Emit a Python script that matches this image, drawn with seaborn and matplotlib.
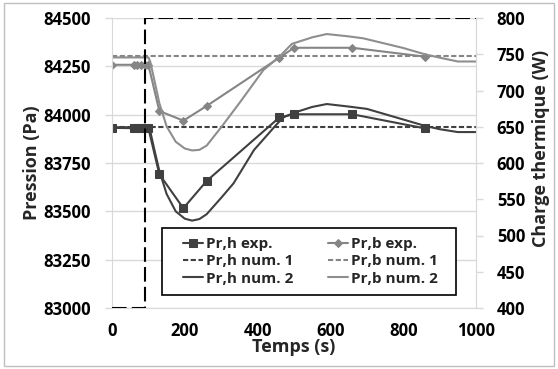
import numpy as np
import pandas as pd
import matplotlib
matplotlib.use('Agg')
import matplotlib.pyplot as plt
import seaborn as sns

# experimental points
t_exp = [0, 60, 70, 80, 90, 100, 130, 196, 260, 460, 500, 660, 860]
prh_exp = [83932, 83930, 83930, 83930, 83930, 83930, 83692, 83516, 83657, 83986, 84002, 84002, 83929]
prb_exp = [84258, 84258, 84258, 84258, 84258, 84258, 84019, 83969, 84045, 84295, 84346, 84346, 84300]

# numerical model 1 (constant)
t_num1 = [0, 1000]
prh_num1 = [83937, 83937]
prb_num1 = [84304, 84304]

# numerical model 2
t_num2 = [0, 100, 105, 115, 130, 150, 175, 200, 220, 240, 260, 300, 334, 390, 450, 470, 500,
          550, 590, 650, 700, 800, 860, 900, 950, 1000]
prh_num2 = [83935, 83935, 83915, 83830, 83710, 83590, 83500, 83462, 83452, 83460, 83485, 83570,
            83645, 83817, 83945, 83985, 84010, 84040, 84055, 84042, 84030, 83975,
            83942, 83925, 83910, 83910]
t_num2b = [0, 100, 105, 115, 130, 150, 175, 200, 220, 240, 260, 300, 350, 416, 460, 494, 550,
           590, 650, 690, 800, 860, 900, 950, 1000]
prb_num2 = [84296, 84296, 84275, 84190, 84060, 83940, 83860, 83825, 83815, 83818, 83840, 83935,
            84060, 84231, 84300, 84366, 84400, 84417, 84405, 84395, 84345, 84312,
            84295, 84275, 84275]

# thermal load step (right axis)
t_step = [0, 90, 90, 1000]
charge = [400, 400, 800, 800]

sns.set_style('white')
plt.rcParams['font.family'] = ['Open Sans', 'DejaVu Sans']
plt.rcParams['font.weight'] = 'bold'

dark = '#404040'
grey = '#858585'
light = '#d9d9d9'

fig, ax = plt.subplots(figsize=(5.58, 3.69), dpi=100)
fig.subplots_adjust(left=112/558, right=476/558, bottom=1-308/369, top=1-18/369)

kw = dict(ax=ax, lw=1.5, sort=False, estimator=None)
sns.lineplot(x=t_exp, y=prh_exp, color=dark, marker='s', markersize=6,
             markeredgecolor=dark, label='Pr,h exp.', **kw)
sns.lineplot(x=t_num1, y=prh_num1, color=dark, label='Pr,h num. 1', **kw)
ax.lines[-1].set_dashes((2.5, 1.2))
sns.lineplot(x=t_num2, y=prh_num2, color=dark, label='Pr,h num. 2', **kw)
sns.lineplot(x=t_exp, y=prb_exp, color=grey, marker='D', markersize=4,
             markeredgecolor=grey, label='Pr,b exp.', **kw)
sns.lineplot(x=t_num1, y=prb_num1, color=grey, label='Pr,b num. 1', **kw)
ax.lines[-1].set_dashes((2.5, 1.2))
sns.lineplot(x=t_num2b, y=prb_num2, color='#8e8e8e', label='Pr,b num. 2', **kw)

ax.set_xlim(0, 1000)
ax.set_ylim(83000, 84500)
ax.set_xticks(range(0, 1001, 200))
ax.set_yticks(range(83000, 84501, 250))
ax.yaxis.grid(True, color=light, lw=1)
ax.set_axisbelow(True)
for s in ['left', 'bottom', 'right']:
    ax.spines[s].set_color(light)
ax.spines['top'].set_visible(False)
ax.tick_params(axis='both', colors=light, labelcolor='black', length=5, width=1, labelsize=12)
ax.tick_params(axis='y', pad=10)
ax.tick_params(axis='x', pad=5)
ax.set_xlabel('Temps (s)', fontsize=13, fontweight='bold', labelpad=-1)
ax.set_ylabel('Pression (Pa)', fontsize=13, fontweight='bold', labelpad=2)

ax2 = ax.twinx()
sns.lineplot(x=t_step, y=charge, ax=ax2, color='black', lw=1.5, sort=False, estimator=None)
ax2.lines[-1].set_dashes((7, 2.5))
ax2.set_ylim(400, 800)
ax2.set_yticks(range(400, 801, 50))
for s in ['left', 'bottom', 'top']:
    ax2.spines[s].set_visible(False)
ax2.spines['right'].set_color(light)
ax2.tick_params(axis='y', colors=light, labelcolor='black', length=5, width=1, labelsize=12, pad=10)
ax2.set_ylabel('Charge thermique (W)', fontsize=13, fontweight='bold', labelpad=5, y=0.55)

# legend box drawn by hand, entries placed inside it
ax2.add_patch(plt.Rectangle((0.137, 0.045), 0.808, 0.231, transform=ax2.transAxes,
                            facecolor='white', edgecolor='black', lw=1.2, zorder=4))
handles, labels = ax.get_legend_handles_labels()
ax.get_legend().remove()
leg = ax2.legend(handles, labels, ncol=2, loc='center left', bbox_to_anchor=(0.195, 0.045, 0.701, 0.231),
                 mode='expand', fontsize=11, frameon=False, handlelength=1.3,
                 handletextpad=0.2, labelspacing=0.22, borderpad=0, borderaxespad=0)
leg.set_zorder(5)
for txt in leg.get_texts():
    txt.set_fontweight('bold')

fig.patches.append(plt.Rectangle((0.008, 0.008), 0.984, 0.984, transform=fig.transFigure,
                                 fill=False, edgecolor='#bfbfbf', lw=1))

fig.savefig('out.png', dpi=100)
